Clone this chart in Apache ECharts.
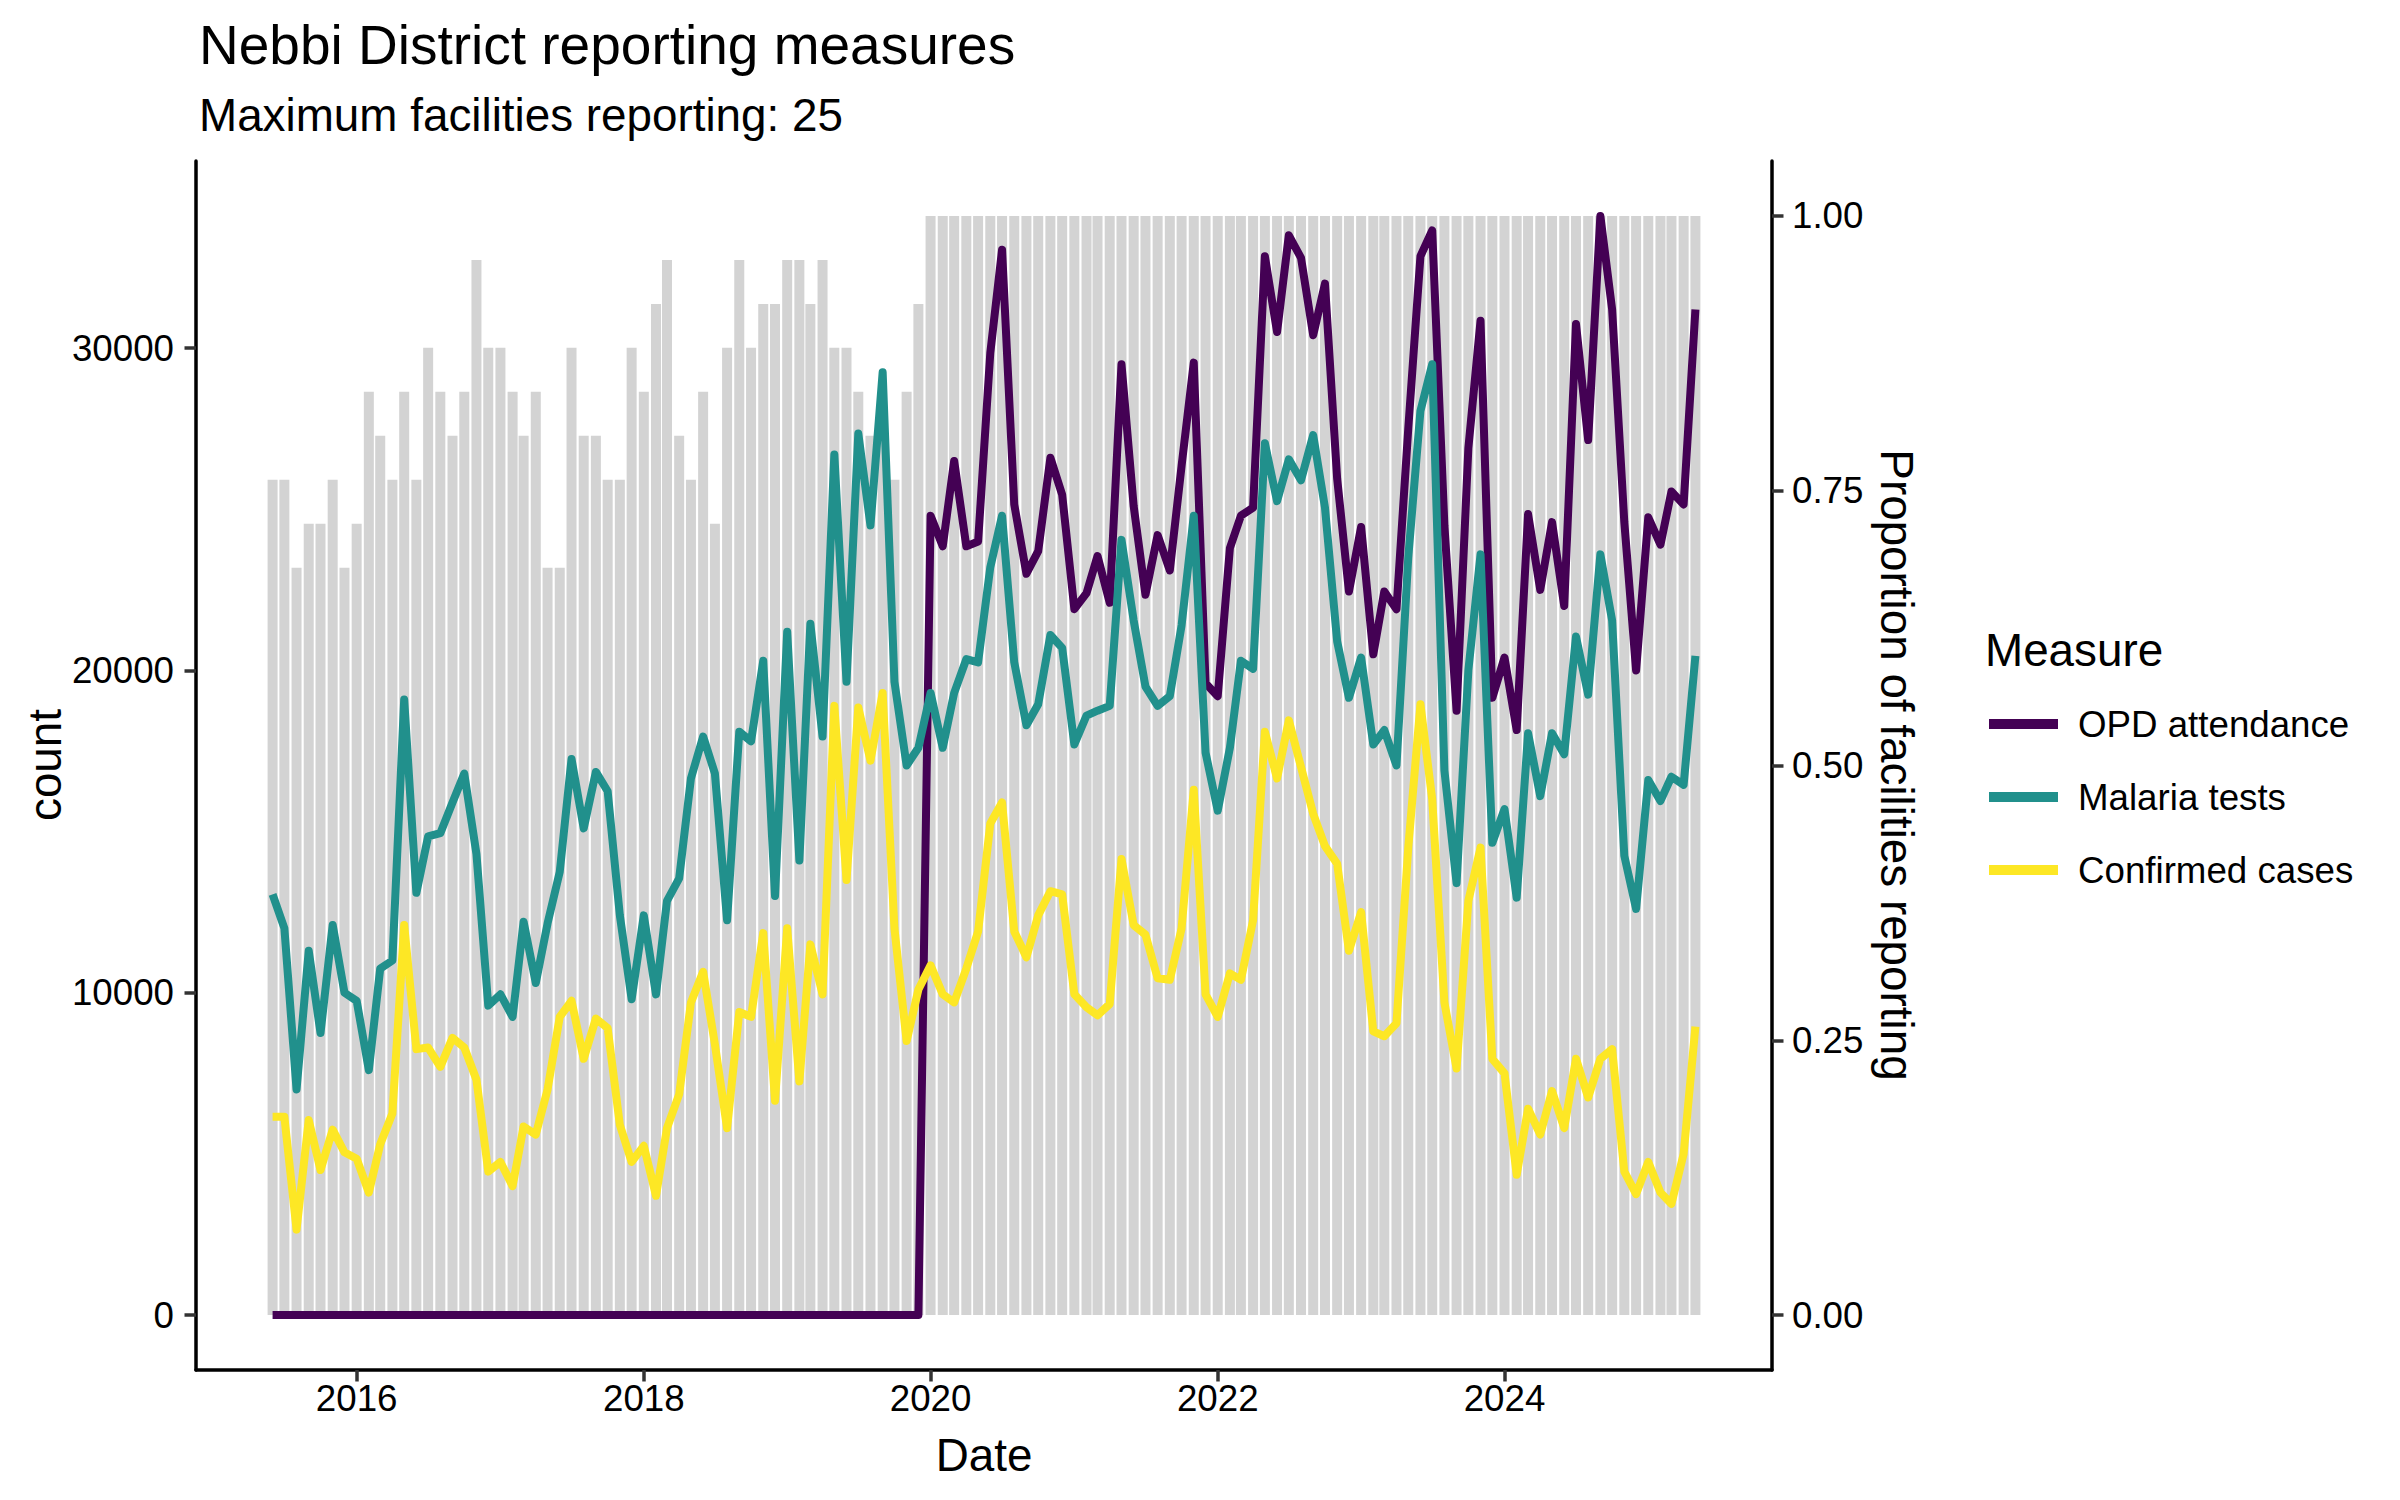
<!DOCTYPE html>
<html>
<head>
<meta charset="utf-8">
<title>Nebbi District reporting measures</title>
<script src="https://cdn.jsdelivr.net/npm/echarts@6.0.0/dist/echarts.min.js"></script>
<style>
  html, body { margin: 0; padding: 0; background: #ffffff; }
  #chart { width: 2400px; height: 1500px; }
</style>
</head>
<body>
<div id="chart"></div>
<script>
// ---------------- DATA ----------------
const months = [
  '2015-06','2015-07','2015-08','2015-09','2015-10','2015-11','2015-12',
  '2016-01','2016-02','2016-03','2016-04','2016-05','2016-06','2016-07','2016-08','2016-09','2016-10','2016-11','2016-12',
  '2017-01','2017-02','2017-03','2017-04','2017-05','2017-06','2017-07','2017-08','2017-09','2017-10','2017-11','2017-12',
  '2018-01','2018-02','2018-03','2018-04','2018-05','2018-06','2018-07','2018-08','2018-09','2018-10','2018-11','2018-12',
  '2019-01','2019-02','2019-03','2019-04','2019-05','2019-06','2019-07','2019-08','2019-09','2019-10','2019-11','2019-12',
  '2020-01','2020-02','2020-03','2020-04','2020-05','2020-06','2020-07','2020-08','2020-09','2020-10','2020-11','2020-12',
  '2021-01','2021-02','2021-03','2021-04','2021-05','2021-06','2021-07','2021-08','2021-09','2021-10','2021-11','2021-12',
  '2022-01','2022-02','2022-03','2022-04','2022-05','2022-06','2022-07','2022-08','2022-09','2022-10','2022-11','2022-12',
  '2023-01','2023-02','2023-03','2023-04','2023-05','2023-06','2023-07','2023-08','2023-09','2023-10','2023-11','2023-12',
  '2024-01','2024-02','2024-03','2024-04','2024-05','2024-06','2024-07','2024-08','2024-09','2024-10','2024-11','2024-12',
  '2025-01','2025-02','2025-03','2025-04','2025-05'
];

const maxFacilities = 25;

// number of facilities reporting each month (out of maxFacilities)
const facilitiesReporting = [
  19,19,17,18,18,19,17,
  18,21,20,19,21,19,22,21,20,21,24,22,
  22,21,20,21,17,17,22,20,20,19,19,22,
  21,23,24,20,19,21,18,22,24,22,23,23,
  24,24,23,24,22,22,21,20,20,19,21,23,
  25,25,25,25,25,25,25,25,25,25,25,25,
  25,25,25,25,25,25,25,25,25,25,25,25,
  25,25,25,25,25,25,25,25,25,25,25,25,
  25,25,25,25,25,25,25,25,25,25,25,25,
  25,25,25,25,25,25,25,25,25,25,25,25,
  25,25,25,25,25
];

const opdAttendance = [
  0,0,0,0,0,0,0,
  0,0,0,0,0,0,0,0,0,0,0,0,
  0,0,0,0,0,0,0,0,0,0,0,0,
  0,0,0,0,0,0,0,0,0,0,0,0,
  0,0,0,0,0,0,0,0,0,0,0,0,
  24800,23850,26500,23850,24000,29850,33050,25150,23000,23700,26600,25450,
  21900,22400,23550,22100,29500,25100,22350,24200,23100,26350,29550,19600,
  19200,23800,24800,25050,32850,30500,33500,32800,30400,32000,25950,22450,
  24450,20500,22450,21900,27500,32850,33650,24500,18750,26900,30850,19150,
  20400,18150,24850,22500,24600,22000,30750,27150,34100,31200,24600,20000,
  24750,23900,25550,25150,31200
];

const malariaTests = [
  13050,12000,7000,11300,8750,12100,10000,
  9750,7600,10750,11000,19100,13100,14850,14950,15900,16800,14300,9600,
  9950,9250,12200,10300,12150,13750,17250,15100,16850,16250,12400,9800,
  12400,9950,12850,13550,16650,17950,16800,12250,18100,17800,20300,13000,
  21200,14100,21450,17950,26700,19650,27350,24500,29250,19650,17050,17600,
  19300,17600,19300,20350,20250,23200,24800,20250,18300,18950,21100,20700,
  17700,18600,18750,18900,24050,21550,19500,18900,19200,21400,24800,17450,
  15650,17600,20300,20050,27050,25250,26550,25900,27300,25050,20900,19150,
  20400,17700,18150,17050,23500,28050,29500,16900,13400,20000,23600,14650,
  15700,12950,18050,16100,18050,17400,21050,19250,23600,21550,14250,12600,
  16600,15950,16700,16450,20450
];

const confirmedCases = [
  6150,6150,2650,6050,4500,5750,5050,
  4850,3800,5300,6250,12100,8250,8300,7700,8600,8300,7300,4450,
  4750,4000,5850,5600,7000,9250,9750,7950,9200,8900,5900,4750,
  5250,3700,5800,6850,9700,10650,8400,5800,9400,9250,11850,6650,
  12000,7250,11500,9950,18900,13500,18850,17200,19300,12000,8500,10100,
  10850,9950,9700,10750,11900,15250,15900,11900,11100,12400,13150,13050,
  9950,9550,9300,9650,14150,12100,11800,10450,10400,12000,16300,9950,
  9250,10600,10400,12250,18100,16650,18450,17000,15550,14550,14000,11300,
  12500,8800,8650,9050,14500,18950,16000,9700,7650,12850,14500,7950,
  7500,4350,6400,5600,6950,5800,7950,6750,7950,8250,4450,3750,
  4750,3800,3450,5000,8950
];

const seriesNames = ['OPD attendance', 'Malaria tests', 'Confirmed cases'];
const seriesColors = ['#440154', '#21908C', '#FDE725'];

const xTickYears = ['2016', '2018', '2020', '2022', '2024'];
const countTicks = [0, 10000, 20000, 30000];
const proportionTicks = [0, 0.25, 0.5, 0.75, 1];

const titleText = 'Nebbi District reporting measures';
const subtitleText = 'Maximum facilities reporting: ' + maxFacilities;

// ---------------- BUILD ----------------
const FONT = "'Liberation Sans', Arial, Helvetica, sans-serif";
const DAY = 86400000;
const toTs = s => Date.UTC(+s.slice(0, 4), +s.slice(5, 7) - 1, 1);
const ts = months.map(toTs);
const xTicks = xTickYears.map(y => Date.UTC(+y, 0, 1));

const maxCount = Math.max(...opdAttendance, ...malariaTests, ...confirmedCases);
const halfBar = 12.6 * DAY;
const span = (ts[ts.length - 1] - ts[0]) + 2 * halfBar;
const xMin = ts[0] - halfBar - 0.05 * span;
const xMax = ts[ts.length - 1] + halfBar + 0.05 * span;

const lineValues = [opdAttendance, malariaTests, confirmedCases];

const chart = echarts.init(document.getElementById('chart'), null, { renderer: 'svg', width: 2400, height: 1500 });

const axisLineStyle = { color: '#000000', width: 3.5 };
const tickStyle = { color: '#333333', width: 3.5 };
const labelBase = { color: '#000000', fontSize: 36.7, fontFamily: FONT };

const option = {
  backgroundColor: '#ffffff',
  animation: false,
  grid: { left: 196, right: 628, top: 161, bottom: 130, containLabel: false },
  xAxis: {
    type: 'value',
    min: xMin,
    max: xMax,
    axisLine: { show: true, onZero: false, lineStyle: axisLineStyle },
    axisTick: { show: true, inside: false, length: 11.5, lineStyle: tickStyle, customValues: xTicks },
    axisLabel: Object.assign({}, labelBase, {
      customValues: xTicks,
      margin: 10,
      formatter: v => String(new Date(v).getUTCFullYear())
    }),
    splitLine: { show: false }
  },
  yAxis: [
    {
      type: 'value',
      position: 'left',
      min: -0.05 * maxCount,
      max: 1.05 * maxCount,
      axisLine: { show: true, onZero: false, lineStyle: axisLineStyle },
      axisTick: { show: true, inside: false, length: 11.5, lineStyle: tickStyle, customValues: countTicks },
      axisLabel: Object.assign({}, labelBase, {
        customValues: countTicks,
        margin: 22,
        formatter: v => String(Math.round(v))
      }),
      splitLine: { show: false }
    },
    {
      type: 'value',
      position: 'right',
      min: -0.05,
      max: 1.05,
      axisLine: { show: true, onZero: false, lineStyle: axisLineStyle },
      axisTick: { show: true, inside: false, length: 11.5, lineStyle: tickStyle, customValues: proportionTicks },
      axisLabel: Object.assign({}, labelBase, {
        customValues: proportionTicks,
        margin: 20,
        formatter: v => Number(v).toFixed(2)
      }),
      splitLine: { show: false }
    }
  ],
  legend: {
    data: seriesNames,
    orient: 'vertical',
    left: 1984,
    top: 697,
    icon: 'rect',
    itemWidth: 69,
    itemHeight: 10,
    itemGap: 29,
    textStyle: { color: '#000000', fontSize: 36.7, fontFamily: FONT, lineHeight: 44, padding: [0, 0, 0, 15] }
  },
  series: [
    {
      type: 'bar',
      name: 'Proportion of facilities reporting',
      xAxisIndex: 0,
      yAxisIndex: 1,
      data: ts.map((t, i) => [t, facilitiesReporting[i] / maxFacilities]),
      barWidth: 10,
      itemStyle: { color: '#D3D3D3' },
      silent: true,
      z: 1
    }
  ].concat(seriesNames.map((name, k) => ({
    type: 'line',
    name: name,
    xAxisIndex: 0,
    yAxisIndex: 0,
    data: ts.map((t, i) => [t, lineValues[k][i]]),
    showSymbol: false,
    symbol: 'none',
    lineStyle: { width: 8, color: seriesColors[k], join: 'round', cap: 'butt' },
    itemStyle: { color: seriesColors[k] },
    z: 3 + k
  }))),
  graphic: [
    { type: 'text', x: 199, y: 45, style: { text: titleText, fontSize: 55, fontFamily: FONT, fill: '#000000', align: 'left', verticalAlign: 'middle' } },
    { type: 'text', x: 199, y: 115, style: { text: subtitleText, fontSize: 45.8, fontFamily: FONT, fill: '#000000', align: 'left', verticalAlign: 'middle' } },
    { type: 'text', x: 45, y: 765, rotation: Math.PI / 2, style: { text: 'count', fontSize: 45.8, fontFamily: FONT, fill: '#000000', align: 'center', verticalAlign: 'middle' } },
    { type: 'text', x: 984, y: 1455, style: { text: 'Date', fontSize: 45.8, fontFamily: FONT, fill: '#000000', align: 'center', verticalAlign: 'middle' } },
    { type: 'text', x: 1896, y: 765, rotation: -Math.PI / 2, style: { text: 'Proportion of facilities reporting', fontSize: 45.8, fontFamily: FONT, fill: '#000000', align: 'center', verticalAlign: 'middle' } },
    { type: 'text', x: 1985, y: 650, style: { text: 'Measure', fontSize: 45.8, fontFamily: FONT, fill: '#000000', align: 'left', verticalAlign: 'middle' } }
  ]
};

chart.setOption(option);
</script>
</body>
</html>
